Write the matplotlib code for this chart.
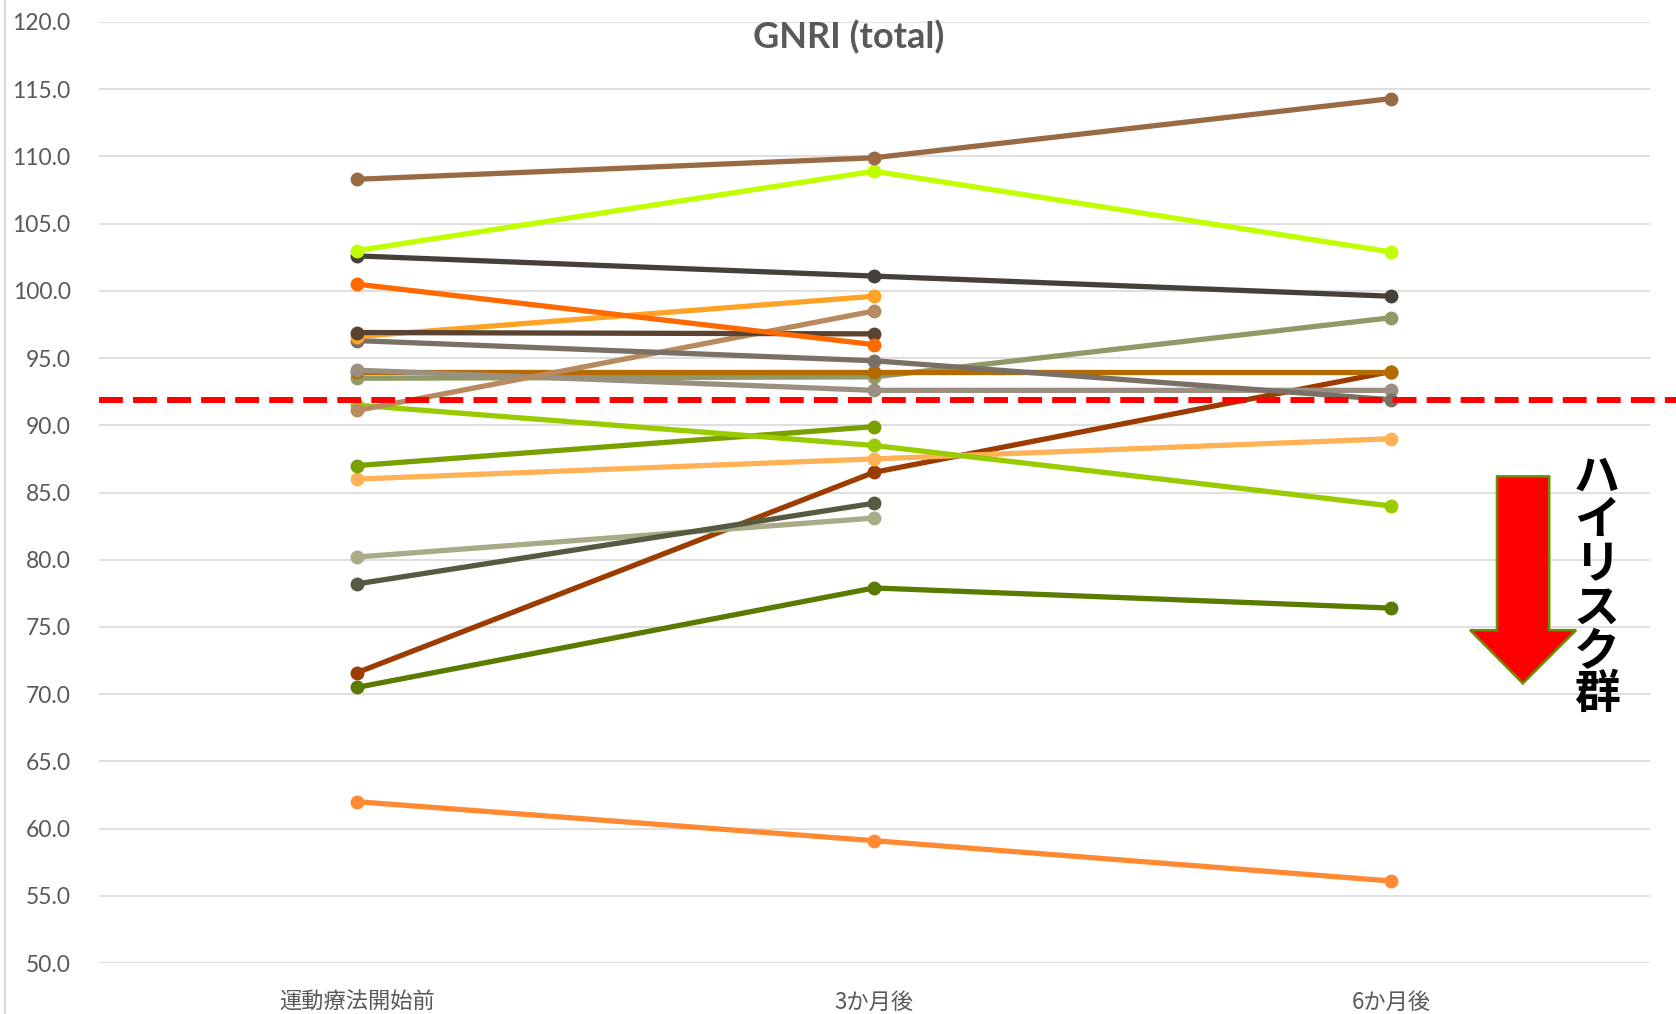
import matplotlib
matplotlib.use("Agg")
import matplotlib.pyplot as plt
from matplotlib.patches import Polygon
import numpy as np

plt.rcParams['font.family'] = ['Lato', 'Noto Sans CJK JP', 'DejaVu Sans']

categories = ["運動療法開始前", "3か月後", "6か月後"]

# series values (None = missing)
s_orange_low = [62.0, 59.1, 56.1]
s_dkgreen = [70.5, 77.9, 76.4]
s_rust = [71.6, 86.5, 94.0]
s_ltolive = [80.2, 83.1, None]
s_dkolive = [78.2, 84.2, None]
s_ltorange = [86.0, 87.5, 89.0]
s_green = [87.0, 89.9, None]
s_ygreen = [91.5, 88.5, 84.0]
s_olive = [93.5, 93.6, 98.0]
s_ochre = [94.0, 94.0, 94.0]
s_ltgray = [94.1, 92.6, 92.6]
s_graybrown = [96.3, 94.8, 91.9]
s_orange2 = [96.6, 99.6, None]
s_tan = [91.1, 98.5, None]
s_dkbrown = [96.9, 96.8, None]
s_orange = [100.5, 96.0, None]
s_dkgray = [102.6, 101.1, 99.6]
s_lime = [103.0, 108.9, 102.9]
s_brown = [108.3, 109.9, 114.3]

series = [
    (s_orange_low, "#ff8a33"),
    (s_dkgreen, "#5a7a00"),
    (s_rust, "#9c3c00"),
    (s_ltolive, "#a8aa88"),
    (s_dkolive, "#555a40"),
    (s_ltorange, "#ffb255"),
    (s_green, "#7aa000"),
    (s_ygreen, "#99cc00"),
    (s_olive, "#909a68"),
    (s_ochre, "#b36b00"),
    (s_ltgray, "#9a8f80"),
    (s_tan, "#b88a60"),
    (s_graybrown, "#7a7066"),
    (s_orange2, "#ffa326"),
    (s_dkbrown, "#5a4330"),
    (s_orange, "#ff6a00"),
    (s_dkgray, "#45403a"),
    (s_lime, "#bfff00"),
    (s_brown, "#996b45"),
]

cutoff = 91.9
yticks = np.arange(50, 120.1, 5)

W, H = 1676, 1014
fig = plt.figure(figsize=(W / 100, H / 100), dpi=100)
ax = fig.add_axes([98.5 / W, 1 - 963 / H, 1551 / W, (963 - 22) / H])

x = np.arange(len(categories))
for vals, col in series:
    v = np.array([np.nan if a is None else a for a in vals], dtype=float)
    ax.plot(x, v, color=col, lw=3.8, marker='o', ms=10, mew=0,
            solid_capstyle='round')

ax.set_xlim(-0.5, 2.5)
ax.set_ylim(50, 120)
ax.set_yticks(yticks)
ax.set_yticklabels([f"{t:.1f}" for t in yticks])
ax.set_xticks(x)
ax.set_xticklabels(categories)
ax.grid(axis='y', color='#d9d9d9', lw=1.2)
ax.set_axisbelow(True)
for sp in ax.spines.values():
    sp.set_visible(False)
ax.tick_params(axis='y', length=0, pad=20, labelsize=16.5, labelcolor='#595959')
ax.tick_params(axis='x', length=0, pad=20, labelsize=16, labelcolor='#595959')
for lab in ax.get_xticklabels():
    lab.set_family(['Noto Sans CJK JP', 'DejaVu Sans'])

# left vertical axis line of the chart area
fig.add_artist(plt.Line2D([5 / W, 5 / W], [0, 1], color='#d9d9d9', lw=1.5,
                          transform=fig.transFigure))

# cutoff line
ax.axhline(cutoff, xmin=0, xmax=(W - 98.5) / 1551, color='#ff0000', lw=4.3,
           dashes=(4, 1.7), clip_on=False, zorder=5)

ax.text(0.484, 1 - 15 / 941, "GNRI (total)", transform=ax.transAxes,
        ha='center', va='center', fontsize=26, fontweight='bold',
        color='#595959')

# arrow annotation
arrow_pts = [(2.205, 86.2), (2.306, 86.2), (2.306, 74.76), (2.358, 74.76),
             (2.255, 70.8), (2.153, 74.76), (2.205, 74.76)]
ax.add_patch(Polygon(arrow_pts, closed=True, facecolor='#ff0000',
                     edgecolor='#6b8e00', lw=1.8, zorder=6, clip_on=False))

ax.text(2.398, 78.0, "\n".join("ハイリスク群"), ha='center', va='center',
        fontsize=33, fontweight='bold', color='black', linespacing=0.93,
        family=['Noto Sans CJK JP'], zorder=7)

fig.savefig("out.png", dpi=100)
